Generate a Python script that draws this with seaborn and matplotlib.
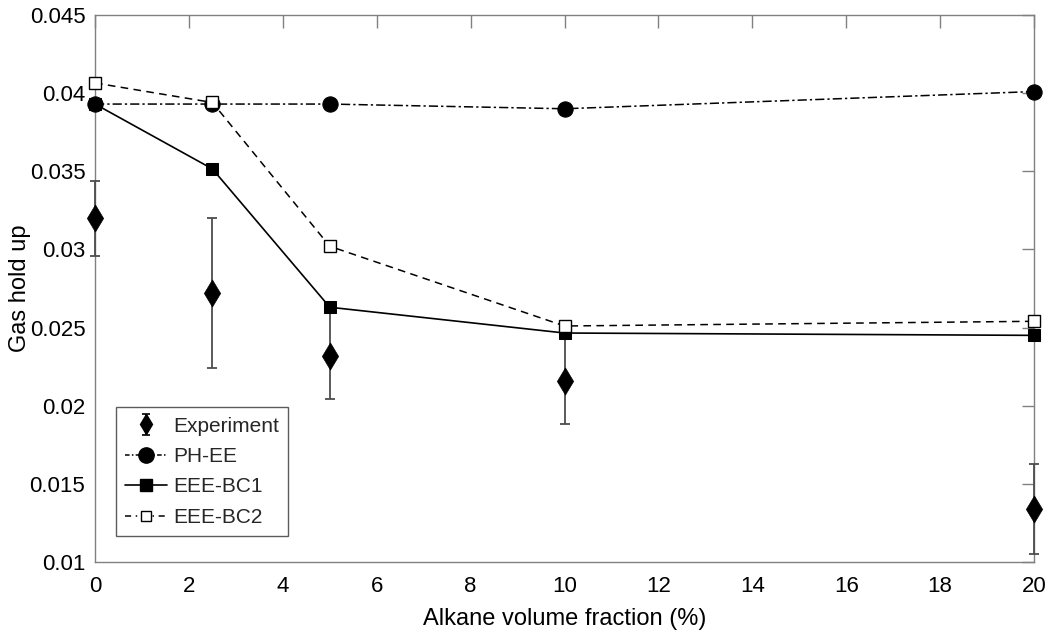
import matplotlib
matplotlib.use("Agg")
import matplotlib.pyplot as plt
import seaborn as sns
import pandas as pd
import numpy as np
from matplotlib.ticker import FuncFormatter
from matplotlib.lines import Line2D
from matplotlib import font_manager

# ---- data ----
x_vals = [0, 2.5, 5, 10, 20]
exp_vals = [0.0320, 0.0272, 0.0232, 0.0216, 0.0134]
exp_err = [0.0024, 0.0048, 0.0028, 0.0028, 0.0029]
ph_ee = [0.0393, 0.0393, 0.0393, 0.0390, 0.0401]
eee_bc1 = [0.0393, 0.03515, 0.02630, 0.02465, 0.02450]
eee_bc2 = [0.04065, 0.0394, 0.03020, 0.02510, 0.02540]
series_names = ["Experiment", "PH-EE", "EEE-BC1", "EEE-BC2"]
x_label = "Alkane volume fraction (%)"
y_label = "Gas hold up"

sns.set_theme(style="white")
names = {f.name for f in font_manager.fontManager.ttflist}
fam = ["Liberation Sans Narrow"] if "Liberation Sans Narrow" in names else []
plt.rcParams["font.family"] = fam + ["Liberation Sans", "DejaVu Sans"]

fig = plt.figure(figsize=(10.49, 6.40), dpi=100)
ax = fig.add_axes([0.0906, 0.1219, 0.8951, 0.8547])

df_ph = pd.DataFrame({"x": x_vals, "y": ph_ee})
df_b1 = pd.DataFrame({"x": x_vals, "y": eee_bc1})
df_b2 = pd.DataFrame({"x": x_vals, "y": eee_bc2})

# experiment
eb = ax.errorbar(x_vals, exp_vals, yerr=exp_err, fmt="none", ecolor="#4d4d4d",
                 elinewidth=1.3, capsize=3.5, capthick=1.3, zorder=3)
for art in eb.lines[1] + eb.lines[2]:
    art.set_clip_on(False)
sns.scatterplot(x=x_vals, y=exp_vals, marker="d", s=190, color="black",
                edgecolor="black", linewidth=0.5, ax=ax, zorder=4,
                legend=False)
ax.collections[-1].set_clip_on(False)

sns.lineplot(data=df_ph, x="x", y="y", ax=ax, color="black", linewidth=1.1,
             marker="o", markersize=11, markerfacecolor="black",
             markeredgecolor="black", zorder=5)
ax.lines[-1].set_dashes([6, 2, 1.5, 2])
ax.lines[-1].set_clip_on(False)
sns.lineplot(data=df_b1, x="x", y="y", ax=ax, color="black", linewidth=1.2,
             marker="s", markersize=8, markerfacecolor="black",
             markeredgecolor="black", zorder=5)
ax.lines[-1].set_clip_on(False)
sns.lineplot(data=df_b2, x="x", y="y", ax=ax, color="black", linewidth=1.1,
             marker="s", markersize=8, markerfacecolor="white",
             markeredgecolor="black", markeredgewidth=1.0, zorder=5)
ax.lines[-1].set_dashes([5, 3.5])
ax.lines[-1].set_clip_on(False)

# legend handles
h_exp = ax.errorbar([np.nan], [np.nan], yerr=[1], fmt="d", color="black",
                    ecolor="black", markersize=10, elinewidth=1.2,
                    capsize=3, capthick=1.2)
h_ph = Line2D([], [], color="black", linewidth=1.1, marker="o", markersize=11,
              dashes=[3, 1.5, 1, 1.5])
h_b1 = Line2D([], [], color="black", linewidth=1.2, marker="s", markersize=8)
h_b2 = Line2D([], [], color="black", linewidth=1.1, marker="s", markersize=7,
              markerfacecolor="white", dashes=[4, 3, 1, 3])
leg = ax.legend([h_exp, h_ph, h_b1, h_b2], series_names, loc="lower left",
                bbox_to_anchor=(0.022, 0.047), borderaxespad=0, fontsize=15,
                frameon=True, fancybox=False, edgecolor="#333333",
                handlelength=2.0, handletextpad=0.3, borderpad=0.45,
                labelspacing=0.55)
leg.get_frame().set_linewidth(1.0)

ax.set_xlim(0, 20)
ax.set_ylim(0.01, 0.045)
ax.set_xticks(np.arange(0, 21, 2))
ax.set_yticks(np.arange(0.01, 0.0451, 0.005))
ax.yaxis.set_major_formatter(FuncFormatter(lambda v, p: f"{v:.3f}".rstrip("0")))
ax.set_xlabel(x_label, fontsize=17, color="black", labelpad=8)
ax.set_ylabel(y_label, fontsize=17, color="black")
ax.yaxis.set_label_coords(-0.068, 0.5)
ax.tick_params(axis="x", which="major", pad=10)
ax.tick_params(axis="y", which="major", pad=7)
ax.tick_params(axis="both", which="major", direction="in", length=9,
               width=1, color="#808080", labelsize=16, labelcolor="black",
               top=True, right=True)
for s in ax.spines.values():
    s.set_visible(True)
    s.set_color("#808080")
    s.set_linewidth(1.0)

fig.savefig("out.png", dpi=100)
